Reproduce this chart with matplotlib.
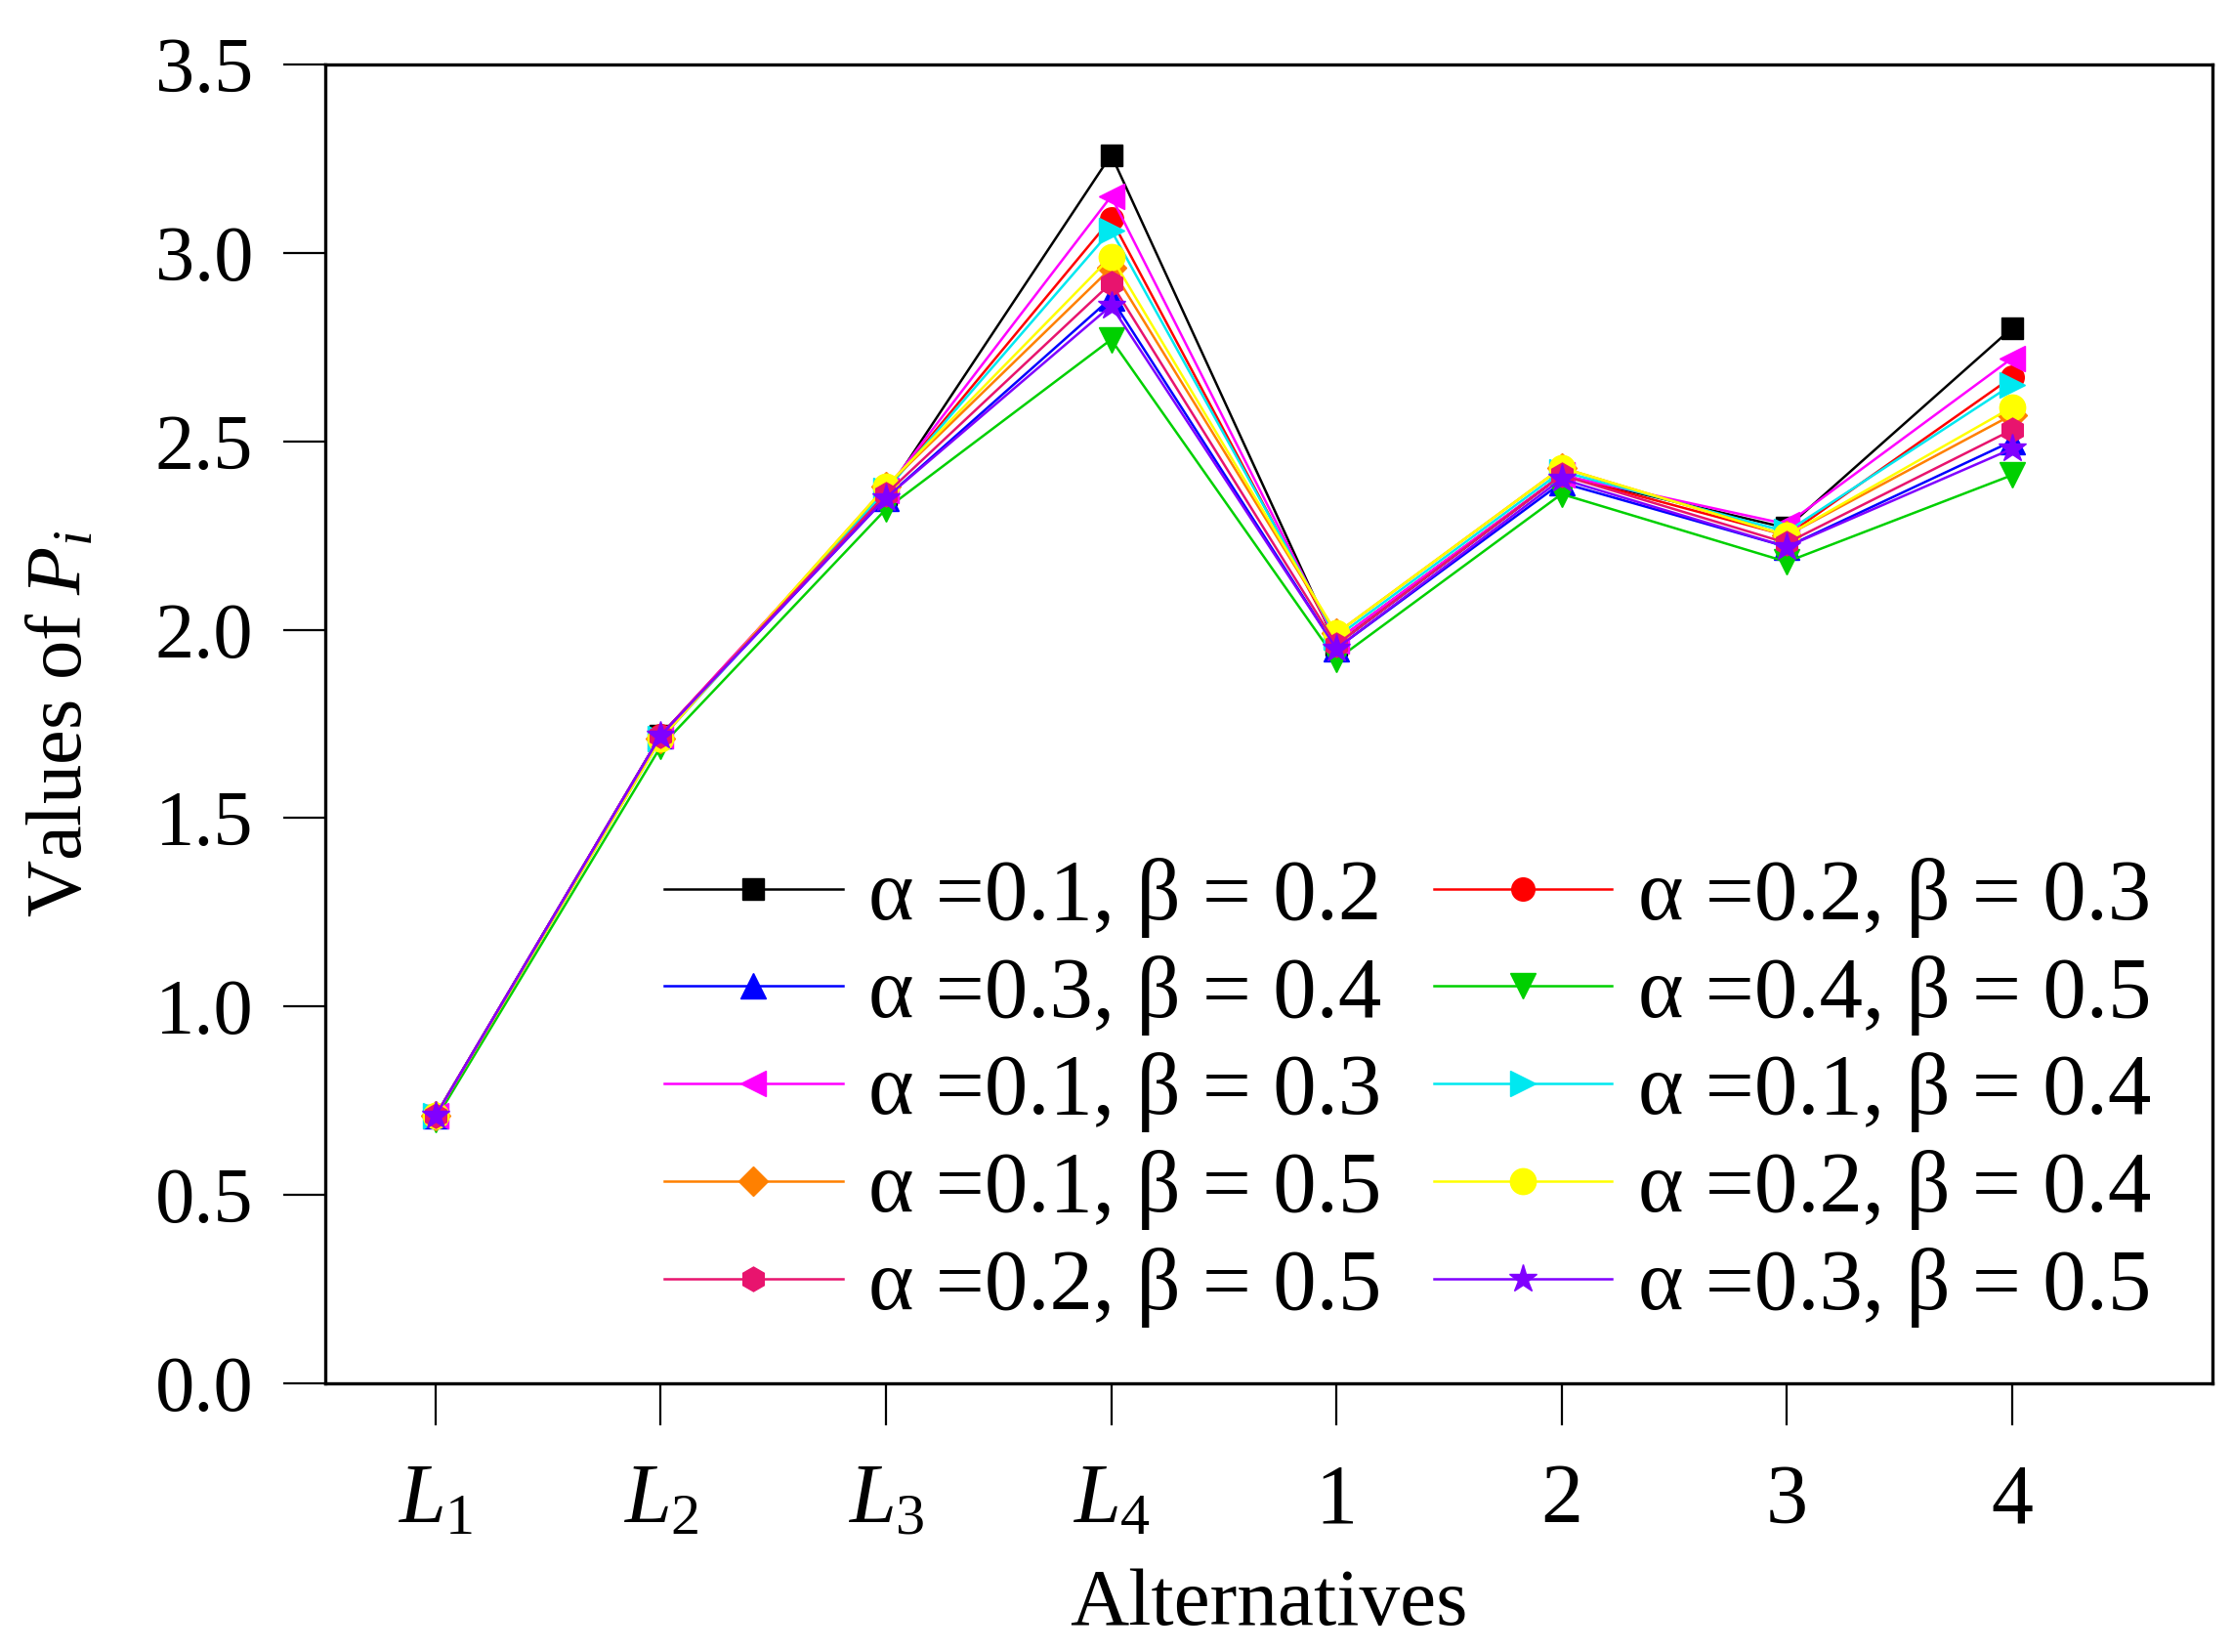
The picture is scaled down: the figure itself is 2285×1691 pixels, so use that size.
import matplotlib
matplotlib.use("Agg")
import matplotlib.pyplot as plt

plt.rcParams['font.family'] = ['Liberation Serif', 'DejaVu Serif']
plt.rcParams['mathtext.fontset'] = 'custom'
plt.rcParams['mathtext.rm'] = 'Liberation Serif'
plt.rcParams['mathtext.it'] = 'Liberation Serif:italic'

alternatives = [r'$\mathit{L}_{1}$', r'$\mathit{L}_{2}$', r'$\mathit{L}_{3}$', r'$\mathit{L}_{4}$', '1', '2', '3', '4']

labels = ['α =0.1, β = 0.2', 'α =0.2, β = 0.3', 'α =0.3, β = 0.4', 'α =0.4, β = 0.5',
          'α =0.1, β = 0.3', 'α =0.1, β = 0.4', 'α =0.1, β = 0.5', 'α =0.2, β = 0.4',
          'α =0.2, β = 0.5', 'α =0.3, β = 0.5']

s_a01_b02 = [0.71, 1.72, 2.36, 3.26, 1.96, 2.41, 2.27, 2.80]
s_a02_b03 = [0.71, 1.72, 2.37, 3.09, 1.97, 2.41, 2.25, 2.67]
s_a03_b04 = [0.71, 1.72, 2.35, 2.88, 1.95, 2.39, 2.22, 2.50]
s_a04_b05 = [0.70, 1.69, 2.32, 2.77, 1.92, 2.36, 2.18, 2.41]
s_a01_b03 = [0.71, 1.72, 2.37, 3.15, 1.97, 2.41, 2.28, 2.72]
s_a01_b04 = [0.71, 1.71, 2.37, 3.06, 1.98, 2.42, 2.26, 2.65]
s_a01_b05 = [0.71, 1.71, 2.38, 2.96, 1.99, 2.43, 2.25, 2.57]
s_a02_b04 = [0.71, 1.71, 2.38, 2.99, 1.99, 2.43, 2.25, 2.59]
s_a02_b05 = [0.71, 1.72, 2.36, 2.92, 1.96, 2.41, 2.23, 2.53]
s_a03_b05 = [0.71, 1.72, 2.35, 2.86, 1.95, 2.40, 2.22, 2.48]

series = [s_a01_b02, s_a02_b03, s_a03_b04, s_a04_b05, s_a01_b03,
          s_a01_b04, s_a01_b05, s_a02_b04, s_a02_b05, s_a03_b05]
colors = ['#000000', '#FF0000', '#0000FF', '#00D000', '#FF00FF',
          '#00E8F0', '#FF8000', '#FFFF00', '#E8146E', '#8000FF']
markers = ['s', 'o', '^', 'v', '<', '>', 'D', 'o', 'h', '*']
msizes = [16, 17, 19, 19, 19, 19, 15, 19, 18, 21]

fig = plt.figure(figsize=(22.85, 16.91), dpi=100)
ax = fig.add_axes([0.1457, 0.1626, 0.8455, 0.7984])

x = list(range(len(alternatives)))
handles = []
for ys, c, m, ms, lab in zip(series, colors, markers, msizes, labels):
    h, = ax.plot(x, ys, color=c, marker=m, markersize=ms, lw=1.8, label=lab)
    handles.append(h)

ax.set_xlim(-0.49, 7.89)
ax.set_ylim(0, 3.5)
ax.set_yticks([0, 0.5, 1.0, 1.5, 2.0, 2.5, 3.0, 3.5])
ax.set_yticklabels(['0.0', '0.5', '1.0', '1.5', '2.0', '2.5', '3.0', '3.5'])
ax.set_xticks(x)
ax.set_xticklabels(alternatives)

for sp in ax.spines.values():
    sp.set_linewidth(2.4)
ax.tick_params(axis='both', direction='out', length=31, width=1.6, labelsize=58)
ax.tick_params(axis='y', pad=22)
ax.tick_params(axis='x', pad=28, labelsize=62)

ax.set_xlabel('Alternatives', fontsize=60, labelpad=20)
ax.set_ylabel(r'Values of $\mathit{P_i}$', fontsize=58, labelpad=42)

# column-wise order so the rows read left to right like the original
order = [0, 2, 4, 6, 8, 1, 3, 5, 7, 9]
ax.legend([handles[i] for i in order], [labels[i] for i in order],
          ncol=2, fontsize=64, frameon=False, loc='lower right',
          bbox_to_anchor=(0.986, 0.016), handlelength=2.05, handletextpad=0.3,
          columnspacing=0.6, labelspacing=0.2, borderaxespad=0)

fig.savefig('out.png', dpi=100)
